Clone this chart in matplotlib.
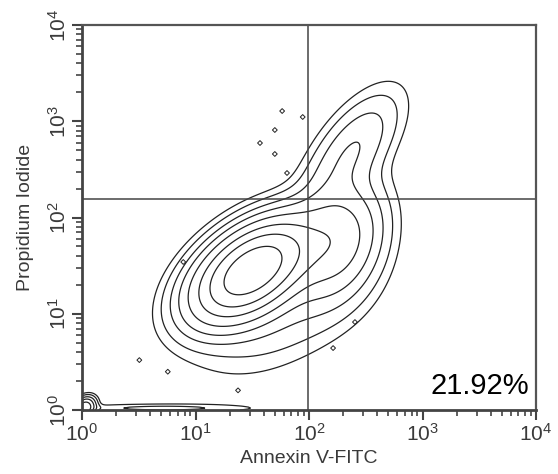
import numpy as np
import matplotlib
matplotlib.use("Agg")
import matplotlib.pyplot as plt
from matplotlib.ticker import LogLocator, NullFormatter, FixedLocator

plt.rcParams['font.family'] = ['Liberation Sans', 'DejaVu Sans']
plt.rcParams['mathtext.fontset'] = 'custom'
plt.rcParams['mathtext.rm'] = 'Liberation Sans'

# ---- data (log10 space cluster description) ----
cluster_logx = [1.50, 2.25, 2.38, 1.75, 0.02, 0.70]
cluster_logy = [1.45, 1.75, 2.70, 0.95, 0.02, 0.02]
cluster_major = [0.36, 0.36, 0.40, 0.50, 0.07, 0.55]
cluster_minor = [0.21, 0.22, 0.17, 0.28, 0.05, 0.03]
cluster_angle = [45, 75, 60, 35, 60, 0]
cluster_weight = [1.0, 0.22, 0.09, 0.04, 0.25, 0.03]
contour_levels = [0.012, 0.025, 0.05, 0.09, 0.16, 0.28, 0.45, 0.7]

outlier_x = [37, 50, 50, 58, 88, 64, 7.8, 3.2, 5.7, 23.7, 254, 163]
outlier_y = [594, 811, 457, 1277, 1107, 290, 34.5, 3.3, 2.5, 1.6, 8.2, 4.4]

quad_x = 98
quad_y = 155
quad_label = "21.92%"
xlabel = "Annexin V-FITC"
ylabel = "Propidium Iodide"
decades = [0, 1, 2, 3, 4]

# ---- density grid ----
lx = np.linspace(0, 4, 400)
ly = np.linspace(0, 4, 400)
LX, LY = np.meshgrid(lx, ly)
Z = np.zeros_like(LX)
for cx, cy, sa, sb, ang, w in zip(cluster_logx, cluster_logy, cluster_major,
                                   cluster_minor, cluster_angle, cluster_weight):
    t = np.deg2rad(ang)
    dx, dy = LX - cx, LY - cy
    u = dx * np.cos(t) + dy * np.sin(t)
    v = -dx * np.sin(t) + dy * np.cos(t)
    Z += w * np.exp(-0.5 * ((u / sa) ** 2 + (v / sb) ** 2))
Z /= Z.max()

fig = plt.figure(figsize=(5.58, 4.74), dpi=100)
ax = fig.add_axes([82 / 558, 1 - 410 / 474, 454 / 558, 385 / 474])
ax.set_xscale('log')
ax.set_yscale('log')
ax.contour(10 ** LX, 10 ** LY, Z, levels=contour_levels, colors='#222222', linewidths=0.9)
ax.scatter(outlier_x, outlier_y, s=6, marker='D', facecolors='none',
           edgecolors='#222222', linewidths=0.7, zorder=3)
ax.set_xlim(1, 1e4)
ax.set_ylim(1, 1e4)

ax.axvline(quad_x, color='#444444', lw=1.1)
ax.axhline(quad_y, color='#444444', lw=1.1)

for s in ['top', 'right']:
    ax.spines[s].set_linewidth(1.6)
    ax.spines[s].set_color('#555555')
for s in ['left', 'bottom']:
    ax.spines[s].set_linewidth(2.0)
    ax.spines[s].set_color('#444444')

ticks = [10.0 ** d for d in decades]
ax.xaxis.set_major_locator(FixedLocator(ticks))
ax.yaxis.set_major_locator(FixedLocator(ticks))
ax.xaxis.set_minor_locator(LogLocator(base=10, subs=np.arange(2, 10)))
ax.yaxis.set_minor_locator(LogLocator(base=10, subs=np.arange(2, 10)))
ax.xaxis.set_minor_formatter(NullFormatter())
ax.yaxis.set_minor_formatter(NullFormatter())
ax.set_xticklabels([r'$\mathregular{10^{%d}}$' % d for d in decades])
ax.set_yticklabels([r'$\mathregular{10^{%d}}$' % d for d in decades], rotation=90, va='center')
ax.tick_params(which='major', direction='out', length=7, width=1.5, color='#444444',
               labelsize=15, labelcolor='#3a3a3a', pad=2)
ax.tick_params(which='minor', direction='out', length=4, width=1.2, color='#444444')

ax.set_xlabel(xlabel, fontsize=14, color='#3a3a3a')
ax.set_ylabel(ylabel, fontsize=14, color='#3a3a3a')
ax.xaxis.set_label_coords(0.5, -0.105)
ax.yaxis.set_label_coords(-0.105, 0.5)

ax.text(0.985, 0.025, quad_label, transform=ax.transAxes, ha='right', va='bottom',
        fontsize=21, color='black')

fig.savefig('out.png', dpi=100)
